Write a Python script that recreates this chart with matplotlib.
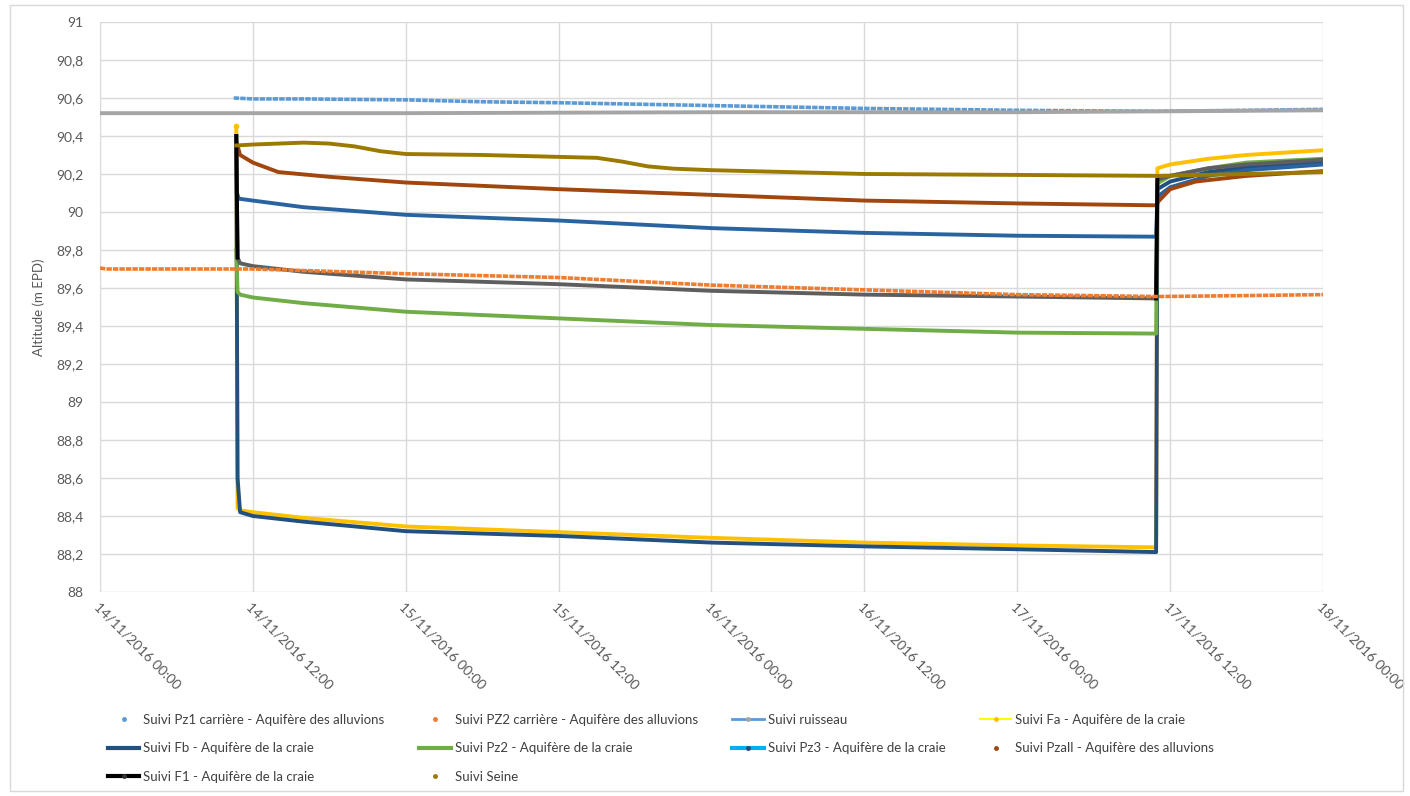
import matplotlib
matplotlib.use('Agg')
import matplotlib.pyplot as plt
import matplotlib.dates as mdates
from matplotlib.lines import Line2D
from matplotlib.patches import Rectangle
from matplotlib.ticker import FuncFormatter, MultipleLocator
import numpy as np
import pandas as pd

plt.rcParams['font.family'] = ['Lato', 'DejaVu Sans']

# start of the record, all times below are hours after it
t0 = pd.Timestamp('2016-11-14 00:00')

# --- series (hours, altitude m EPD) ---
pz1_h = [10.5, 12, 16, 24, 30, 36, 48, 60, 72, 83, 90, 96]
pz1_v = [90.60, 90.595, 90.595, 90.59, 90.58, 90.575, 90.56, 90.545, 90.535, 90.53, 90.535, 90.54]

pz2c_h = [0, 0.5, 12, 24, 36, 48, 60, 72, 83, 90, 96]
pz2c_v = [89.705, 89.70, 89.70, 89.675, 89.655, 89.615, 89.59, 89.565, 89.555, 89.56, 89.565]

ruis_h = [0, 24, 48, 72, 84, 96]
ruis_v = [90.52, 90.52, 90.525, 90.525, 90.53, 90.535]

seine_h = [10.7, 12, 14, 16, 18, 20, 22, 24, 30, 36, 39, 41, 43, 45, 48, 60, 72, 83, 83.1, 90, 96]
seine_v = [90.35, 90.355, 90.36, 90.365, 90.36, 90.345, 90.32, 90.305, 90.30, 90.29, 90.285,
           90.265, 90.24, 90.228, 90.22, 90.20, 90.195, 90.19, 90.19, 90.20, 90.21]

pzall_h = [10.75, 11, 12, 14, 18, 24, 36, 48, 60, 72, 82.9, 83.0, 84, 86, 90, 96]
pzall_v = [90.36, 90.30, 90.26, 90.21, 90.185, 90.155, 90.12, 90.09, 90.06, 90.045,
           90.035, 90.05, 90.12, 90.16, 90.19, 90.215]

pz3_h = [10.75, 10.9, 12, 16, 24, 36, 48, 60, 72, 82.9, 83.0, 84, 87, 90, 96]
pz3_v = [90.10, 90.07, 90.06, 90.025, 89.985, 89.955, 89.915, 89.89, 89.875, 89.87,
         90.08, 90.13, 90.19, 90.22, 90.25]

step_h = [10.7, 10.8, 11, 12, 16, 24, 36, 48, 60, 72, 82.9, 83.0, 84, 87, 90, 96]
f1_v = [90.40, 89.76, 89.73, 89.715, 89.685, 89.645, 89.62, 89.585, 89.565, 89.555,
        89.545, 90.17, 90.19, 90.23, 90.25, 90.275]
pz2_v = [89.80, 89.58, 89.565, 89.55, 89.52, 89.475, 89.44, 89.405, 89.385, 89.365,
         89.36, 90.15, 90.19, 90.23, 90.26, 90.28]
fa_v = [90.45, 88.44, 88.43, 88.42, 88.39, 88.345, 88.315, 88.285, 88.26, 88.245,
        88.235, 90.23, 90.25, 90.28, 90.30, 90.325]
fb_v = [90.40, 88.60, 88.42, 88.40, 88.37, 88.32, 88.295, 88.26, 88.24, 88.225,
        88.21, 90.12, 90.16, 90.21, 90.235, 90.26]

tick_hours = [0, 12, 24, 36, 48, 60, 72, 84, 96]


def ts(hours):
    return [t0 + pd.Timedelta(hours=h) for h in hours]


fig = plt.figure(figsize=(14.1, 7.96), dpi=100)
fig.patch.set_facecolor('white')
fig.patches.append(Rectangle((0.007, 0.006), 0.988, 0.988, transform=fig.transFigure,
                             fill=False, edgecolor='#D9D9D9', linewidth=1))
ax = fig.add_axes([0.0709, 0.2563, 0.8674, 0.7161])

lw = 2.8
ax.plot(ts(pz1_h), pz1_v, color='#5B9BD5', lw=2.6, ls=(0, (1.5, 0.3)), zorder=3)
ax.plot(ts(ruis_h), ruis_v, color='#A5A5A5', lw=lw, zorder=3)
ax.plot(ts(step_h), fa_v, color='#FFC000', lw=lw, zorder=3)
ax.plot(ts(step_h[:1]), fa_v[:1], 'o', color='#FFC000', ms=3, zorder=3)
ax.plot(ts(step_h), fb_v, color='#22507F', lw=lw, zorder=4)
ax.plot(ts(step_h), pz2_v, color='#70AD47', lw=lw, zorder=4)
ax.plot(ts(pz3_h), pz3_v, color='#2A64A0', lw=lw, zorder=4)
ax.plot(ts(pzall_h), pzall_v, color='#A0460E', lw=lw, zorder=5)
ax.plot(ts(step_h), f1_v, color='#5E5E5E', lw=lw, zorder=5)
# F1 jumps drawn in black
for i in range(len(step_h) - 1):
    if abs(f1_v[i + 1] - f1_v[i]) > 0.3:
        ax.plot(ts(step_h[i:i + 2]), f1_v[i:i + 2], color='black', lw=lw, zorder=6)
ax.plot(ts(seine_h), seine_v, color='#9C7A00', lw=lw, zorder=6)
ax.plot(ts(pz2c_h), pz2c_v, color='#ED7D31', lw=2.6, ls=(0, (1.5, 0.3)), zorder=7)

# axes
ax.set_ylim(88, 91)
ax.yaxis.set_major_locator(MultipleLocator(0.2))
ax.yaxis.set_major_formatter(FuncFormatter(lambda v, p: ('%g' % round(v, 1)).replace('.', ',')))
ax.set_xlim(t0, t0 + pd.Timedelta(hours=96))
ax.set_xticks(ts(tick_hours))
ax.xaxis.set_major_formatter(mdates.DateFormatter('%d/%m/%Y %H:%M'))
for lab in ax.get_xticklabels():
    lab.set_rotation(-45)
    lab.set_ha('left')
    lab.set_va('top')
    lab.set_rotation_mode('anchor')

ax.grid(True, color='#D9D9D9', lw=1)
ax.set_axisbelow(True)
for s in ax.spines.values():
    s.set_visible(False)
ax.tick_params(axis='both', length=0, colors='#595959', labelsize=10)
ax.tick_params(axis='x', pad=6)
ax.tick_params(axis='y', pad=12)
ax.set_ylabel('Altitude (m EPD)', fontsize=9.5, color='#595959', labelpad=8)

# legend (Excel style, row-major order)
def dot(c):
    return Line2D([], [], ls='none', marker='o', ms=2.5, color=c)

def line(c, w=3, mc=None):
    return Line2D([], [], color=c, lw=w, marker='o' if mc else None, ms=2.5,
                  markerfacecolor=mc, markeredgecolor=mc)

handles = [dot('#5B9BD5'), line('#22507F'), line('black', mc='#333333'),
           dot('#ED7D31'), line('#70AD47'), dot('#9C7A00'),
           line('#5B9BD5', 2, '#A5A5A5'), line('#00B0F0', 3, '#1F4E79'),
           line('#FFFF00', 1.5, '#FFC000'), dot('#A0460E')]
labels = ['Suivi Pz1 carrière - Aquifère des alluvions',
          'Suivi Fb - Aquifère de la craie',
          'Suivi F1 - Aquifère de la craie',
          'Suivi PZ2 carrière - Aquifère des alluvions',
          'Suivi Pz2 - Aquifère de la craie',
          'Suivi Seine',
          'Suivi ruisseau',
          'Suivi Pz3 - Aquifère de la craie',
          'Suivi Fa - Aquifère de la craie',
          'Suivi Pzall - Aquifère des alluvions']
leg = fig.legend(handles, labels, ncol=4, loc='upper left', frameon=False,
                 bbox_to_anchor=(0.068, 0.118), fontsize=9.5, handlelength=2.4,
                 handletextpad=0.3, columnspacing=2.6, labelspacing=1.25)
for t in leg.get_texts():
    t.set_color('#404040')

fig.savefig('out.png', dpi=100, facecolor='white')
